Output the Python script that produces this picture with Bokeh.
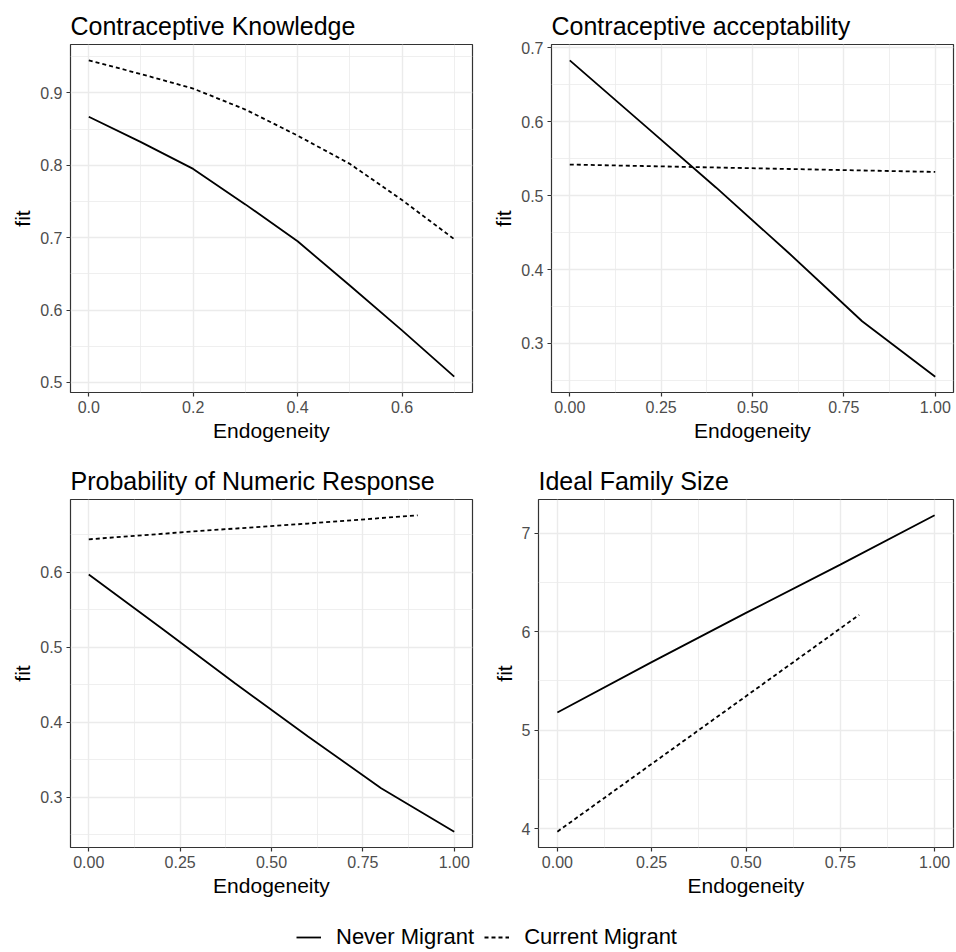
from bokeh.plotting import figure
from bokeh.models import (Range1d, FixedTicker, PrintfTickFormatter, Legend, LegendItem)
from bokeh.layouts import column, row
from bokeh.embed import file_html
from bokeh.resources import INLINE

# ---- data -------------------------------------------------------------
# Contraceptive Knowledge
know_x = [0.0, 0.1, 0.2, 0.3, 0.4, 0.5, 0.6, 0.7]
know_never = [0.867, 0.832, 0.795, 0.746, 0.695, 0.634, 0.572, 0.508]
know_current = [0.945, 0.926, 0.906, 0.877, 0.841, 0.802, 0.752, 0.698]

# Contraceptive acceptability
accept_x = [0.0, 0.2, 0.4, 0.6, 0.8, 1.0]
accept_never = [0.683, 0.597, 0.511, 0.422, 0.330, 0.255]
accept_current = [0.542, 0.540, 0.538, 0.536, 0.534, 0.532]

# Probability of Numeric Response
numeric_never_x = [0.0, 0.2, 0.4, 0.6, 0.8, 1.0]
numeric_never = [0.597, 0.525, 0.452, 0.381, 0.312, 0.254]
numeric_current_x = [0.0, 0.3, 0.6, 0.9]
numeric_current = [0.644, 0.655, 0.665, 0.676]

# Ideal Family Size
ideal_never_x = [0.0, 0.25, 0.5, 0.75, 1.0]
ideal_never = [5.18, 5.69, 6.19, 6.68, 7.18]
ideal_current_x = [0.0, 0.2, 0.4, 0.6, 0.8]
ideal_current = [3.97, 4.52, 5.07, 5.62, 6.17]

# tick positions
know_xticks = [0.0, 0.2, 0.4, 0.6]
know_xminor = [0.1, 0.3, 0.5, 0.7]
know_yticks = [0.5, 0.6, 0.7, 0.8, 0.9]
know_yminor = [0.55, 0.65, 0.75, 0.85, 0.95]
quarter_ticks = [0.0, 0.25, 0.5, 0.75, 1.0]
quarter_minor = [0.125, 0.375, 0.625, 0.875]
accept_yticks = [0.3, 0.4, 0.5, 0.6, 0.7]
accept_yminor = [0.25, 0.35, 0.45, 0.55, 0.65]
numeric_yticks = [0.3, 0.4, 0.5, 0.6]
numeric_yminor = [0.25, 0.35, 0.45, 0.55, 0.65]
ideal_yticks = [4, 5, 6, 7]
ideal_yminor = [4.5, 5.5, 6.5]

series_labels = ["Never Migrant", "Current Migrant"]

FONT = "Liberation Sans"
DASH = "4 3"
LINE_W = 1.8


def padded(values, frac=0.05):
    lo, hi = min(values), max(values)
    pad = (hi - lo) * frac
    return Range1d(lo - pad, hi + pad)


def panel(title, xs, ys, xticks, xminor, yticks, yminor, xfmt, yfmt,
          width, height, left, right, top, bottom):
    all_x = [v for s in xs for v in s]
    all_y = [v for s in ys for v in s]
    p = figure(width=width, height=height, output_backend="svg",
               toolbar_location=None, title=title,
               x_range=padded(all_x), y_range=padded(all_y),
               min_border_left=left, min_border_right=right,
               min_border_top=top, min_border_bottom=bottom)
    p.title.text_font = FONT
    p.title.text_font_size = "25px"
    p.title.text_font_style = "normal"
    p.title.text_color = "black"
    p.title.standoff = 10

    p.outline_line_color = "#333333"
    p.outline_line_width = 1.2
    p.background_fill_color = "white"

    p.xaxis.ticker = FixedTicker(ticks=xticks, minor_ticks=xminor)
    p.yaxis.ticker = FixedTicker(ticks=yticks, minor_ticks=yminor)
    p.xaxis.formatter = PrintfTickFormatter(format=xfmt)
    p.yaxis.formatter = PrintfTickFormatter(format=yfmt)
    p.xaxis.axis_label = "Endogeneity"
    p.yaxis.axis_label = "fit"
    for ax in (p.xaxis, p.yaxis):
        ax.axis_line_color = None
        ax.major_tick_line_color = "#333333"
        ax.major_tick_line_width = 1.2
        ax.major_tick_in = 0
        ax.major_tick_out = 4
        ax.minor_tick_line_color = None
        ax.major_label_text_font = FONT
        ax.major_label_text_font_size = "16px"
        ax.major_label_text_color = "#4D4D4D"
        ax.major_label_standoff = 4
        ax.axis_label_text_font = FONT
        ax.axis_label_text_font_size = "21px"
        ax.axis_label_text_font_style = "normal"
        ax.axis_label_text_color = "black"
        ax.axis_label_standoff = 3

    for g in (p.xgrid, p.ygrid):
        g.grid_line_color = "#EBEBEB"
        g.grid_line_width = 1.4
        g.minor_grid_line_color = "#EBEBEB"
        g.minor_grid_line_width = 0.8

    p.line(xs[0], ys[0], line_color="black", line_width=LINE_W)
    p.line(xs[1], ys[1], line_color="black", line_width=LINE_W, line_dash=DASH)
    return p


p1 = panel("Contraceptive Knowledge",
           [know_x, know_x], [know_never, know_current],
           know_xticks, know_xminor, know_yticks, know_yminor, "%.1f", "%.1f",
           478, 450, 70, 6, 43, 57)
p2 = panel("Contraceptive acceptability",
           [accept_x, accept_x], [accept_never, accept_current],
           quarter_ticks, quarter_minor, accept_yticks, accept_yminor, "%.2f", "%.1f",
           478, 450, 73, 3, 44, 58)
p3 = panel("Probability of Numeric Response",
           [numeric_never_x, numeric_current_x], [numeric_never, numeric_current],
           quarter_ticks, quarter_minor, numeric_yticks, numeric_yminor, "%.2f", "%.1f",
           478, 450, 70, 6, 49, 53)
p4 = panel("Ideal Family Size",
           [ideal_never_x, ideal_current_x], [ideal_never, ideal_current],
           quarter_ticks, quarter_minor, ideal_yticks, ideal_yminor, "%.2f", "%d",
           478, 450, 60, 3, 49, 53)

# shared key along the bottom; the key renderers hold no visible data
nan = float("nan")
key = figure(width=956, height=52, output_backend="svg", toolbar_location=None,
             x_range=Range1d(0, 1), y_range=Range1d(0, 1),
             min_border_left=0, min_border_right=0,
             min_border_top=0, min_border_bottom=0)
key.axis.visible = False
key.grid.visible = False
key.outline_line_color = None
r_never = key.line([nan], [nan], line_color="black", line_width=LINE_W)
r_current = key.line([nan], [nan], line_color="black", line_width=LINE_W,
                     line_dash=DASH)
legend = Legend(items=[LegendItem(label=series_labels[0], renderers=[r_never]),
                       LegendItem(label=series_labels[1], renderers=[r_current])],
                orientation="horizontal", location=(296, 2),
                glyph_width=25, glyph_height=22, label_standoff=15, spacing=10,
                padding=0, margin=0, border_line_color=None,
                background_fill_alpha=0,
                label_text_font=FONT, label_text_font_size="22px",
                label_text_color="black")
key.add_layout(legend)

layout = column(row(p1, p2), row(p3, p4), key)

with open("out.html", "w") as f:
    f.write(file_html(layout, INLINE))
